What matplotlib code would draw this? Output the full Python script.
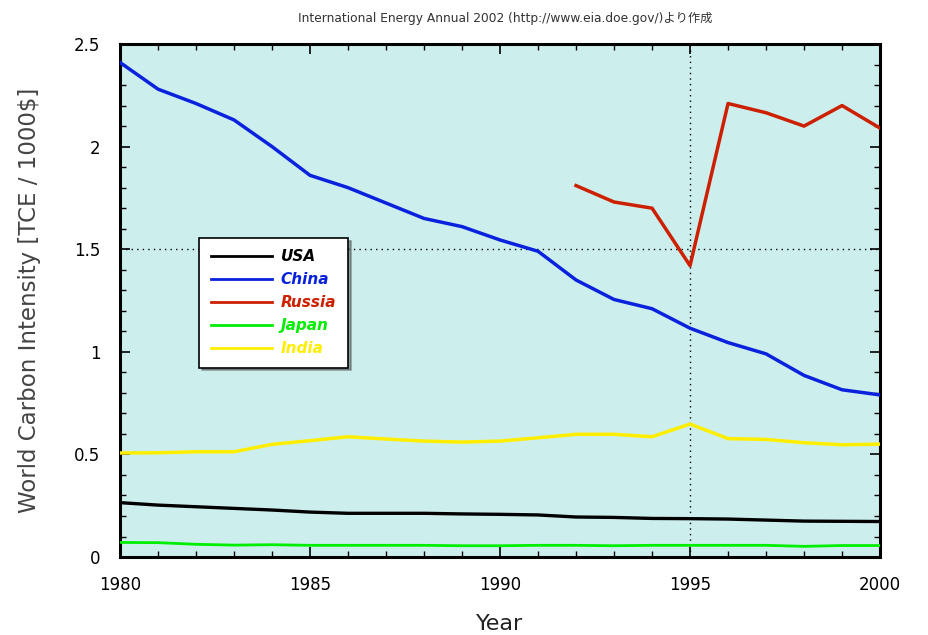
import matplotlib
matplotlib.use("Agg")
import matplotlib.pyplot as plt
from matplotlib.ticker import MultipleLocator, FuncFormatter

years = list(range(1980, 2001))
usa = [0.265, 0.253, 0.245, 0.237, 0.229, 0.219, 0.213, 0.213, 0.213, 0.21, 0.208,
       0.205, 0.195, 0.193, 0.188, 0.187, 0.185, 0.18, 0.175, 0.174, 0.173]
china = [2.41, 2.28, 2.21, 2.13, 2.00, 1.86, 1.80, 1.725, 1.65, 1.61, 1.545,
         1.49, 1.35, 1.255, 1.21, 1.115, 1.045, 0.99, 0.885, 0.815, 0.79]
russia_years = list(range(1992, 2001))
russia = [1.81, 1.73, 1.70, 1.42, 2.21, 2.165, 2.10, 2.20, 2.09]
japan = [0.071, 0.07, 0.062, 0.058, 0.06, 0.057, 0.057, 0.057, 0.057, 0.055, 0.055,
         0.057, 0.057, 0.055, 0.057, 0.057, 0.057, 0.057, 0.052, 0.056, 0.056]
india = [0.507, 0.508, 0.513, 0.513, 0.549, 0.567, 0.586, 0.575, 0.565, 0.56, 0.565,
         0.581, 0.598, 0.598, 0.586, 0.648, 0.577, 0.573, 0.557, 0.547, 0.55]

x_ticks = [1980, 1985, 1990, 1995, 2000]
y_ticks = [0, 0.5, 1, 1.5, 2, 2.5]

fig = plt.figure(figsize=(9.29, 6.35), dpi=100)
ax = fig.add_axes([0.1292, 0.1228, 0.8181, 0.8079])
ax.set_facecolor('#ccefee')

ax.axhline(1.5, color='black', linestyle=(0, (1, 3)), linewidth=1.0, zorder=1)
ax.axvline(1995, color='black', linestyle=(0, (1, 3)), linewidth=1.0, zorder=1)

ax.plot(years, usa, color='black', linewidth=2.4, label='USA', zorder=3)
ax.plot(years, china, color='#0a22dd', linewidth=2.5, label='China', zorder=3)
ax.plot(russia_years, russia, color='#cc2000', linewidth=2.5, label='Russia', zorder=3)
ax.plot(years, japan, color='#00ee00', linewidth=2.0, label='Japan', zorder=3)
ax.plot(years, india, color='#ffee00', linewidth=2.5, label='India', zorder=3)

ax.set_xlim(1980, 2000)
ax.set_ylim(0, 2.5)
ax.set_xticks(x_ticks)
ax.set_yticks(y_ticks)
ax.xaxis.set_minor_locator(MultipleLocator(1))
ax.yaxis.set_minor_locator(MultipleLocator(0.1))
ax.yaxis.set_major_formatter(FuncFormatter(lambda v, p: ('%g' % v)))
ax.tick_params(which='both', direction='in', top=True, right=True)
ax.tick_params(which='major', length=7, width=1.2, labelsize=12, pad=14)
ax.tick_params(which='minor', length=4, width=1.0)
for sp in ax.spines.values():
    sp.set_linewidth(2.2)

ax.set_xlabel('Year', fontsize=16, color='#222222', labelpad=14)
ax.set_ylabel('World Carbon Intensity [TCE / 1000\\$]', fontsize=16.5, color='#444444', labelpad=24)

leg = ax.legend(loc='upper left', bbox_to_anchor=(0.094, 0.637), frameon=True,
                fancybox=False, shadow=True, edgecolor='black', framealpha=1,
                labelcolor='linecolor', handlelength=4.0, handletextpad=0.6,
                borderpad=0.75, labelspacing=0.52,
                prop={'style': 'italic', 'weight': 'bold', 'size': 11})
leg.get_frame().set_linewidth(1.2)
for line in leg.get_lines():
    line.set_linewidth(2.0)

fig.text(712 / 929, 1 - 18 / 635,
         'International Energy Annual 2002 (http://www.eia.doe.gov/)より作成',
         ha='right', va='center', fontsize=8.8, color='#333333',
         family=['DejaVu Sans', 'Noto Sans CJK JP'])

fig.savefig('out.png', dpi=100)
